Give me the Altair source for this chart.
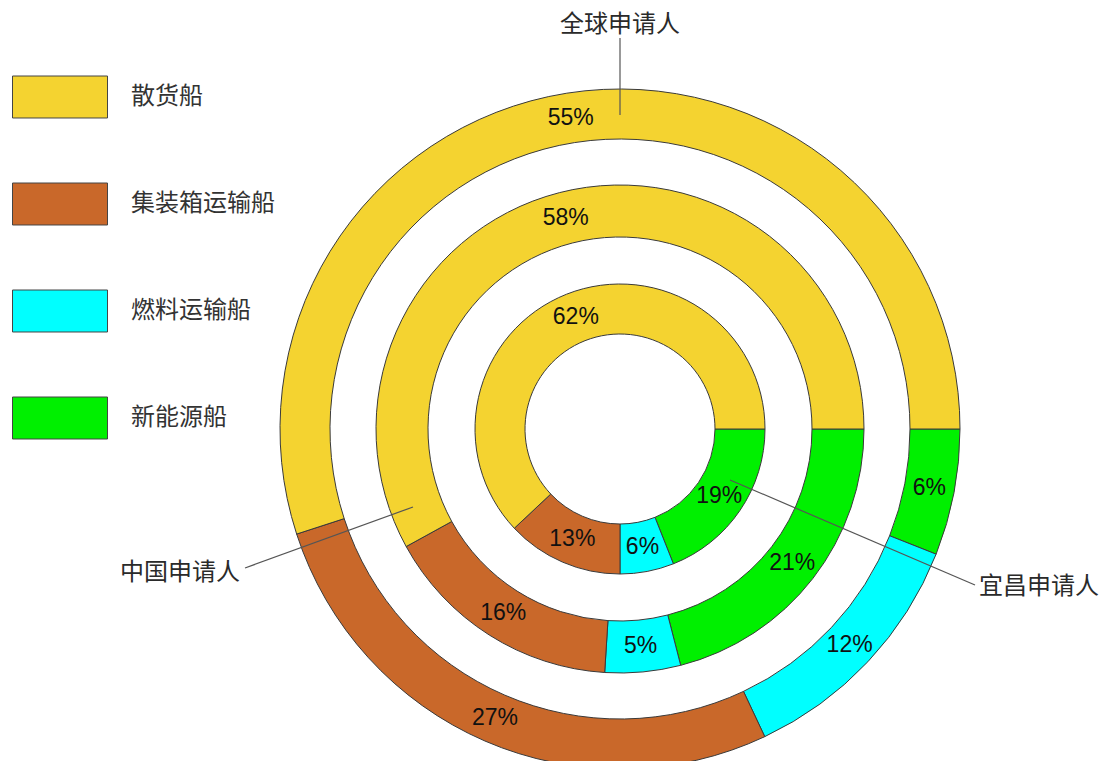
import math
import pandas as pd
import altair as alt

# ---- data ----
categories = ["散货船", "集装箱运输船", "燃料运输船", "新能源船"]
colors = ["#F4D330", "#C9682A", "#00FFFF", "#00F000"]
rings = ["宜昌申请人", "中国申请人", "全球申请人"]          # inner -> outer
yichang = [62, 13, 6, 19]
china = [58, 16, 5, 21]
world = [55, 27, 12, 6]

# ---- layout ----
PAD_TOP = 8
W, H = 1091, 753 - PAD_TOP
CX, CY = 612, 421 - PAD_TOP            # pie centre inside the view (pixels)
ring_radii = [(95, 145), (192, 244), (290, 340)]
clockwise_order = ["新能源船", "燃料运输船", "集装箱运输船", "散货船"]  # from 3 o'clock

xs = alt.Scale(domain=[-CX, W - CX], range=[0, W], nice=False, zero=False)
ys = alt.Scale(domain=[-(H - CY), CY], range=[H, 0], nice=False, zero=False)

rows = []
for ring, vals, (r0, r1) in zip(rings, [yichang, china, world], ring_radii):
    cum = 0
    for cat in clockwise_order:
        v = vals[categories.index(cat)]
        mid = cum + v / 2
        ang = math.pi / 2 + 2 * math.pi * mid / 100
        rm = (r0 + r1) / 2
        rows.append(dict(ring=ring, cat=cat, value=v, t0=cum, t1=cum + v,
                         r0=r0, r1=r1, cx=0, cy=0,
                         lx=rm * math.sin(ang), ly=rm * math.cos(ang),
                         lbl=f"{v}%"))
        cum += v
df = pd.DataFrame(rows)

arcs = alt.Chart(df).mark_arc(stroke="#3a3a3a", strokeWidth=1).encode(
    x=alt.X("cx:Q", scale=xs, axis=None),
    y=alt.Y("cy:Q", scale=ys, axis=None),
    theta=alt.Theta("t0:Q", scale=alt.Scale(domain=[0, 100],
                                             range=[math.pi / 2, math.pi / 2 + 2 * math.pi])),
    theta2="t1:Q",
    radius=alt.Radius("r0:Q", scale=alt.Scale(type="linear", domain=[0, 340],
                                               range=[0, 340], zero=True)),
    radius2="r1:Q",
    color=alt.Color("cat:N",
                    scale=alt.Scale(domain=categories, range=colors),
                    sort=categories,
                    legend=alt.Legend(
                        title=None, orient="none", legendX=4, legendY=41 - PAD_TOP,
                        symbolType="M-1,-0.442L1,-0.442L1,0.442L-1,0.442Z",
                        symbolSize=9025, symbolStrokeColor="#444",
                        symbolStrokeWidth=1, symbolOpacity=1,
                        labelFont="Noto Sans CJK SC", labelFontSize=24,
                        labelColor="#333", labelOffset=23, rowPadding=36,
                        labelLimit=300)),
)

pct = alt.Chart(df).mark_text(font="Liberation Sans", fontSize=23, color="#111").encode(
    x=alt.X("lx:Q", scale=xs, axis=None),
    y=alt.Y("ly:Q", scale=ys, axis=None),
    text="lbl:N",
)

# annotation leader lines (pixel units relative to the centre, y up)
leaders = pd.DataFrame([
    dict(name="全球申请人", x=0, y=391, x2=0, y2=314),
    dict(name="中国申请人", x=-375, y=-139, x2=-207, y2=-78),
    dict(name="宜昌申请人", x=355, y=-156, x2=110, y2=-51),
])
lines = alt.Chart(leaders).mark_rule(color="#555", strokeWidth=1.2).encode(
    x=alt.X("x:Q", scale=xs, axis=None),
    y=alt.Y("y:Q", scale=ys, axis=None),
    x2="x2:Q", y2="y2:Q",
)

ann = pd.DataFrame([
    dict(name="全球申请人", x=0, y=404, a="center"),
    dict(name="中国申请人", x=-380, y=-144, a="right"),
    dict(name="宜昌申请人", x=359, y=-158, a="left"),
])
ann_layers = []
for _, r in ann.iterrows():
    ann_layers.append(
        alt.Chart(ann[ann["name"] == r["name"]]).mark_text(
            font="Noto Sans CJK SC", fontSize=24, color="#2a2a2a", align=r["a"],
            baseline="middle").encode(
            x=alt.X("x:Q", scale=xs, axis=None),
            y=alt.Y("y:Q", scale=ys, axis=None),
            text="name:N")
    )

chart = alt.layer(arcs, pct, lines, *ann_layers).properties(
    width=W, height=H,
    padding={"top": PAD_TOP, "left": 0, "right": 0, "bottom": 0},
    autosize=alt.AutoSizeParams(type="none"),
).configure_view(stroke=None)

chart.save("out.html", embed_options={"renderer": "svg", "actions": False})
